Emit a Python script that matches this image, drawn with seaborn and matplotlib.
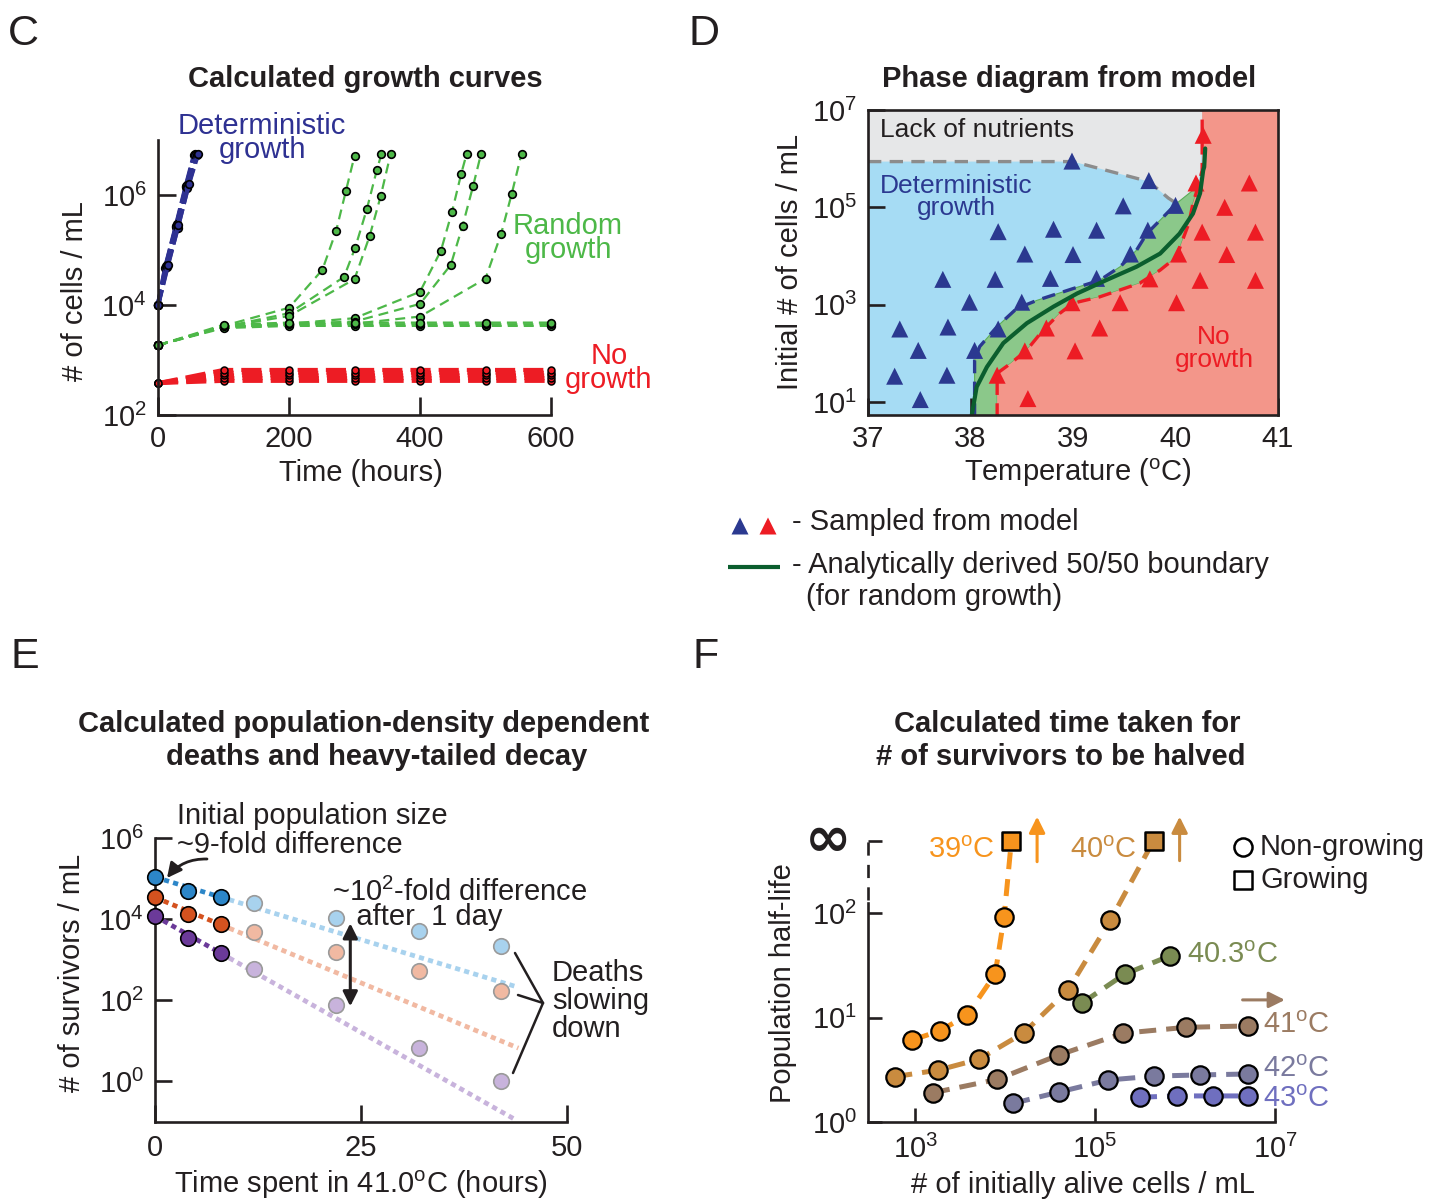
import numpy as np
import pandas as pd
import matplotlib
matplotlib.use("Agg")
import matplotlib.pyplot as plt
import seaborn as sns
from matplotlib.ticker import FixedLocator, FixedFormatter, NullLocator

# ---------------------------------------------------------------- data
# C: growth curves, time (h) and log10 cells/mL
det_time = [[0, 11, 27, 42, 55], [0, 12, 28, 43, 56], [0, 13, 29, 44, 57],
            [0, 14, 30, 45, 59], [0, 15, 31, 47, 61]]
det_log = [[4.0, 4.68, 5.42, 6.14, 6.73], [4.0, 4.71, 5.44, 6.16, 6.74],
           [4.0, 4.73, 5.47, 6.18, 6.73], [4.0, 4.70, 5.40, 6.12, 6.72],
           [4.0, 4.72, 5.46, 6.20, 6.74]]

rnd_time = [[0, 100, 200, 251, 272, 287, 300],
            [0, 100, 200, 284, 301, 319, 334, 341],
            [0, 100, 200, 300, 323, 340, 355],
            [0, 100, 200, 300, 400, 432, 449, 463, 471],
            [0, 100, 200, 300, 400, 447, 465, 481, 493],
            [0, 100, 200, 300, 400, 500, 524, 540, 555],
            [0, 100, 200, 300, 400, 500, 600],
            [0, 100, 200, 300, 400, 500, 600],
            [0, 100, 200, 300, 400, 500, 600]]
rnd_log = [[3.27, 3.62, 3.95, 4.64, 5.35, 6.08, 6.71],
           [3.27, 3.60, 3.85, 4.51, 5.04, 5.75, 6.45, 6.74],
           [3.27, 3.60, 3.80, 4.47, 5.25, 5.98, 6.74],
           [3.27, 3.60, 3.66, 3.76, 4.24, 4.99, 5.70, 6.39, 6.74],
           [3.27, 3.60, 3.65, 3.70, 4.02, 4.73, 5.44, 6.16, 6.74],
           [3.27, 3.60, 3.64, 3.66, 3.79, 4.48, 5.30, 6.02, 6.75],
           [3.27, 3.58, 3.62, 3.62, 3.62, 3.62, 3.62],
           [3.27, 3.61, 3.65, 3.65, 3.65, 3.65, 3.65],
           [3.27, 3.64, 3.68, 3.68, 3.68, 3.68, 3.68]]

none_time = [[0, 100, 200, 300, 400, 500, 600]] * 5
none_log = [[2.58, 2.62, 2.62, 2.62, 2.62, 2.62, 2.62],
            [2.58, 2.67, 2.67, 2.67, 2.67, 2.67, 2.67],
            [2.58, 2.72, 2.72, 2.72, 2.72, 2.72, 2.72],
            [2.58, 2.77, 2.77, 2.77, 2.77, 2.77, 2.77],
            [2.58, 2.82, 2.82, 2.82, 2.82, 2.82, 2.82]]

# D: phase diagram, temperature (C) and log10 initial density
tri_blue_T = [37.51, 37.26, 37.77, 37.49, 38.04, 37.31, 37.78, 38.27, 37.99, 38.50,
              37.73, 38.24, 38.78, 39.23, 38.53, 39.00, 39.56, 38.27, 38.81, 39.23,
              39.73, 39.49, 40.00, 39.74, 38.99]
tri_blue_logN = [1.05, 1.53, 1.55, 2.06, 2.06, 2.50, 2.54, 2.50, 3.05, 3.05,
                 3.52, 3.52, 3.54, 3.54, 4.04, 4.03, 4.04, 4.50, 4.55, 4.53,
                 4.53, 5.03, 5.04, 5.55, 5.95]
tri_red_T = [38.56, 38.26, 38.53, 39.02, 38.74, 39.26, 38.99, 39.46, 40.01, 39.75,
             40.24, 40.78, 40.03, 40.50, 40.26, 40.78, 40.48, 40.20, 40.72, 40.27]
tri_red_logN = [1.07, 1.55, 2.05, 2.05, 2.52, 2.52, 3.04, 3.04, 3.04, 3.53,
                3.50, 3.50, 4.04, 4.03, 4.49, 4.49, 5.00, 5.50, 5.50, 6.48]

nutr_T = [37.0, 39.0, 39.74, 39.93, 40.01, 40.17, 40.22, 40.25, 40.26]
nutr_logN = [5.94, 5.94, 5.53, 5.19, 5.08, 5.35, 5.45, 5.90, 7.0]
det_edge_T = [38.04, 38.04, 38.09, 38.26, 38.45, 38.65, 39.00, 39.26, 39.46, 39.62,
              39.72, 39.88, 40.01, 40.17, 40.22]
det_edge_logN = [0.70, 1.86, 2.14, 2.55, 2.92, 3.09, 3.33, 3.50, 3.78, 4.12,
                 4.46, 4.80, 5.08, 5.35, 5.42]
nog_edge_T = [38.26, 38.26, 38.39, 38.55, 38.71, 38.87, 39.00, 39.26, 39.65, 39.85,
              40.01, 40.08, 40.13, 40.17, 40.22, 40.26, 40.26]
nog_edge_logN = [0.70, 1.59, 1.79, 2.07, 2.48, 2.82, 3.03, 3.16, 3.44, 3.71,
                 3.98, 4.39, 4.67, 5.08, 5.42, 5.76, 7.0]
bound_T = [38.01, 38.06, 38.16, 38.32, 38.55, 38.81, 39.04, 39.33, 39.62, 39.85,
           40.04, 40.17, 40.24, 40.27, 40.28, 40.29]
bound_logN = [0.70, 1.31, 1.72, 2.21, 2.62, 2.96, 3.23, 3.51, 3.78, 4.05,
              4.46, 4.87, 5.29, 5.76, 5.83, 6.21]

# E: survivors at 41.0 C, time (h) and log10 survivors/mL
e_time = [0, 4, 8, 12, 22, 32, 42]
e_high = [5.04, 4.71, 4.54, 4.40, 4.04, 3.71, 3.34]
e_mid = [4.54, 4.13, 3.88, 3.69, 3.18, 2.73, 2.23]
e_low = [4.08, 3.53, 3.17, 2.78, 1.88, 0.82, 0.00]
fit_start = [5.04, 4.54, 4.08]        # log10 at t = 0
fit_slope = [-0.0617, -0.0844, -0.115]  # log10 per hour
fit_end = [44.1, 44.1, 43.5]          # hours

# F: half-life vs initial density
INF_HL = 10 ** 2.69                   # plotting position of an infinite half-life
f_temps = ['39', '40', '40.3', '41', '42', '43']
f_cells = {'39': [933, 1905, 3800, 7762, 9772],
           '40': [603, 1820, 5130, 16200, 50100, 148000],
           '40.3': [72400, 214000, 676000],
           '41': [1580, 8130, 39800, 204000, 1.02e6, 5.01e6],
           '42': [12300, 39800, 141000, 457000, 1.48e6, 5.01e6],
           '43': [316000, 813000, 2.04e6, 5.01e6]}
f_halflife = {'39': [6.12, 7.52, 10.6, 26.1, 92.3],
              '40': [2.74, 3.16, 4.01, 7.19, 18.4, 85.1],
              '40.3': [13.9, 26.1, 38.9],
              '41': [1.92, 2.57, 4.41, 7.10, 8.09, 8.34],
              '42': [1.52, 1.95, 2.54, 2.77, 2.84, 2.90],
              '43': [1.74, 1.79, 1.79, 1.79]}
f_growing_cells = {'39': 11750, '40': 447000}

# ---------------------------------------------------------------- style
W, H, DPI = 1445, 1200, 100
FS = 21
FS_IN = 19      # labels written inside the phase diagram
INK = '#231F20'
sns.set_theme(style="ticks")
plt.rcParams.update({
    'font.family': ['Liberation Sans', 'DejaVu Sans'],
    'mathtext.fontset': 'custom',
    'mathtext.rm': 'Liberation Sans',
    'mathtext.it': 'Liberation Sans:italic',
    'mathtext.bf': 'Liberation Sans:bold',
    'font.size': FS,
    'axes.linewidth': 1.9,
    'axes.edgecolor': INK,
    'xtick.direction': 'in', 'ytick.direction': 'in',
    'xtick.major.width': 1.9, 'ytick.major.width': 1.9,
    'xtick.color': INK, 'ytick.color': INK,
    'xtick.labelsize': FS, 'ytick.labelsize': FS,
    'xtick.major.pad': 7, 'ytick.major.pad': 8,
    'text.color': INK,
})

fig = plt.figure(figsize=(W / DPI, H / DPI), dpi=DPI)


def box(l, t, r, b):
    return fig.add_axes([l / W, 1 - b / H, (r - l) / W, (b - t) / H])


def txt(x, y, s, **kw):
    kw.setdefault('fontsize', FS)
    kw.setdefault('va', 'baseline')
    return fig.text(x / W, 1 - y / H, s, **kw)


def two_line(x, y_last, s, spacing=0.83, **kw):
    # two stacked lines, y_last is the baseline of the lower line
    kw.setdefault('ha', 'center')
    kw.setdefault('multialignment', 'center')
    return txt(x, y_last, s, linespacing=spacing, **kw)


def long_frame(times, logs):
    rows = []
    for k, (tt, ll) in enumerate(zip(times, logs)):
        for t, l in zip(tt, ll):
            rows.append((k, t, 10.0 ** l))
    return pd.DataFrame(rows, columns=['curve', 't', 'n'])


def pow_labels(exps):
    return ['$\\mathregular{10^{%d}}$' % e for e in exps]


# overlay in pixel units for keys and annotation strokes
ov = fig.add_axes([0, 0, 1, 1], zorder=10)
ov.set_xlim(0, W)
ov.set_ylim(H, 0)
ov.axis('off')

# ---------------------------------------------------------------- C
RED, GREEN, NAVY = '#ED1C24', '#4DB848', '#2E3192'
axC = box(158, 140, 551, 415)
axC.set_yscale('log')
common = dict(x='t', y='n', units='curve', estimator=None, sort=False, ax=axC,
              marker='o', markeredgecolor='black', clip_on=False)
sns.lineplot(data=long_frame(none_time, none_log), color=RED, lw=2.9,
             linestyle=(0, (5, 2)), markersize=5, markeredgewidth=1.1,
             markerfacecolor=RED, **common)
sns.lineplot(data=long_frame(rnd_time, rnd_log), color=GREEN, lw=1.6,
             linestyle=(0, (4.5, 2.7)), markersize=5.5, markeredgewidth=1.2,
             markerfacecolor=GREEN, **common)
sns.lineplot(data=long_frame(det_time, det_log), color=NAVY, lw=3.2,
             linestyle=(0, (3.5, 1.2)), markersize=5.5, markeredgewidth=1.2,
             markerfacecolor=NAVY, **common)
axC.set_xlim(0, 600)
axC.set_ylim(1e2, 1e7)
axC.set(xlabel='', ylabel='')
sns.despine(ax=axC)
axC.xaxis.set_major_locator(FixedLocator([0, 200, 400, 600]))
axC.yaxis.set_major_locator(FixedLocator([1e2, 1e4, 1e6]))
axC.yaxis.set_major_formatter(FixedFormatter(pow_labels([2, 4, 6])))
axC.yaxis.set_minor_locator(NullLocator())
axC.tick_params(length=13)

txt(8, 45, 'C', fontsize=31)
txt(365, 87, 'Calculated growth curves', ha='center', fontweight='bold')
txt(75, 291, '# of cells / mL', ha='center', va='center', rotation=90)
txt(361, 473, 'Time (hours)', ha='center', va='center')
two_line(262, 158, 'Deterministic\ngrowth', color=NAVY)
two_line(568, 258, 'Random\ngrowth', color=GREEN)
two_line(609, 388, 'No\ngrowth', color=RED)

# ---------------------------------------------------------------- D
BG_BLUE, BG_GREY, BG_GREEN, BG_RED = '#A6DCF4', '#E6E7E8', '#8BC88A', '#F3968A'
TRI_BLUE, TRI_RED, DARKGREEN = '#2B3990', '#ED1C24', '#0B5E2E'
axD = box(868, 110, 1278, 415)
axD.set_yscale('log')
axD.set_facecolor(BG_BLUE)
top = 7.0
grey_T = [37.0] + nutr_T
grey_N = [top] + nutr_logN
axD.fill(grey_T, [10 ** v for v in grey_N], color=BG_GREY, lw=0, zorder=0.5)
green_T = det_edge_T + nog_edge_T[:15][::-1]
green_N = det_edge_logN + nog_edge_logN[:15][::-1]
axD.fill(green_T, [10 ** v for v in green_N], facecolor=BG_GREEN,
         edgecolor='#5DAE5A', lw=0.8, zorder=0.6)
red_T = nog_edge_T + [41.0, 41.0]
red_N = nog_edge_logN + [top, 0.70]
axD.fill(red_T, [10 ** v for v in red_N], color=BG_RED, lw=0, zorder=0.7)

edge_kw = dict(estimator=None, sort=False, ax=axD, lw=2.4)
sns.lineplot(x=nutr_T[:5], y=[10 ** v for v in nutr_logN[:5]], color='#8C8C8C',
             linestyle=(0, (4, 2.5)), **edge_kw)
sns.lineplot(x=det_edge_T[:13], y=[10 ** v for v in det_edge_logN[:13]], color=TRI_BLUE,
             linestyle=(0, (4, 2.5)), **edge_kw)
sns.lineplot(x=nog_edge_T, y=[10 ** v for v in nog_edge_logN], color=TRI_RED,
             linestyle=(0, (4, 2.5)), **edge_kw)
sns.scatterplot(x=tri_blue_T, y=[10 ** v for v in tri_blue_logN], marker='^', s=150,
                color=TRI_BLUE, edgecolor='none', ax=axD, zorder=4)
sns.scatterplot(x=tri_red_T, y=[10 ** v for v in tri_red_logN], marker='^', s=150,
                color=TRI_RED, edgecolor='none', ax=axD, zorder=4)
sns.lineplot(x=bound_T, y=[10 ** v for v in bound_logN], color=DARKGREEN, lw=3.0,
             estimator=None, sort=False, ax=axD, zorder=5)
axD.set_xlim(37, 41)
axD.set_ylim(10 ** 0.733, 1e7)
axD.set(xlabel='', ylabel='')
axD.xaxis.set_major_locator(FixedLocator([37, 38, 39, 40, 41]))
axD.xaxis.set_major_formatter(FixedFormatter(['37', '38', '39', '40', '41']))
axD.yaxis.set_major_locator(FixedLocator([1e1, 1e3, 1e5, 1e7]))
axD.yaxis.set_major_formatter(FixedFormatter(pow_labels([1, 3, 5, 7])))
axD.yaxis.set_minor_locator(NullLocator())
axD.tick_params(length=12.5)
for sp in axD.spines.values():
    sp.set_zorder(6)

txt(688, 45, 'D', fontsize=31)
txt(1069, 87, 'Phase diagram from model', ha='center', fontweight='bold')
txt(790, 262, 'Initial # of cells / mL', ha='center', va='center', rotation=90)
txt(1078, 473, 'Temperature ($\\mathregular{^o}$C)', ha='center', va='center')
txt(880, 137, 'Lack of nutrients', fontsize=FS_IN)
two_line(956, 215, 'Deterministic\ngrowth', spacing=0.9, color=TRI_BLUE, fontsize=FS_IN)
two_line(1214, 367, 'No\ngrowth', spacing=0.95, color=TRI_RED, fontsize=FS_IN)

# key below D
ov.scatter([740], [526], marker='^', s=150, color=TRI_BLUE, edgecolor='none')
ov.scatter([768], [526], marker='^', s=150, color=TRI_RED, edgecolor='none')
ov.plot([728, 780], [567, 567], color=DARKGREEN, lw=3.0, solid_capstyle='butt')
txt(792, 522, '- Sampled from model', va='center')
txt(792, 565, '- Analytically derived 50/50 boundary', va='center')
txt(806, 597, '(for random growth)', va='center')

# ---------------------------------------------------------------- E
axE = box(155, 838.3, 567, 1121.7)
axE.set_yscale('log')
dark = ['#2C86C8', '#D4521F', '#6B3A99']
light = ['#A8D2EE', '#F1B9A2', '#C8B3DC']
series = [e_high, e_mid, e_low]
split_t = 9.0
for k in range(3):
    t_dark = [0.0, split_t]
    t_light = [split_t, fit_end[k]]
    sns.lineplot(x=t_light, y=[10 ** (fit_start[k] + fit_slope[k] * t) for t in t_light],
                 color=light[k], lw=3.4, linestyle=(0, (1.1, 0.9)), estimator=None,
                 ax=axE, zorder=2)
    sns.lineplot(x=t_dark, y=[10 ** (fit_start[k] + fit_slope[k] * t) for t in t_dark],
                 color=dark[k], lw=3.4, linestyle=(0, (1.1, 0.9)), estimator=None,
                 ax=axE, zorder=2)
for k in range(3):
    vals = [10 ** v for v in series[k]]
    sns.scatterplot(x=e_time[3:], y=vals[3:], s=125, color=light[k], edgecolor='#9A9A9A',
                    linewidth=1.2, ax=axE, zorder=3, clip_on=False)
    sns.scatterplot(x=e_time[:3], y=vals[:3], s=125, color=dark[k], edgecolor='black',
                    linewidth=1.2, ax=axE, zorder=4, clip_on=False)
axE.set_xlim(0, 50)
axE.set_ylim(1e-1, 1e6)
axE.set(xlabel='', ylabel='')
sns.despine(ax=axE)
axE.xaxis.set_major_locator(FixedLocator([0, 25, 50]))
axE.xaxis.set_major_formatter(FixedFormatter(['0', '25', '50']))
axE.yaxis.set_major_locator(FixedLocator([1e0, 1e2, 1e4, 1e6]))
axE.yaxis.set_major_formatter(FixedFormatter(pow_labels([0, 2, 4, 6])))
axE.yaxis.set_minor_locator(NullLocator())
axE.tick_params(length=12)
axE.tick_params(axis='x', pad=9)
axE.annotate('', xy=(23.7, 10 ** 1.85), xytext=(23.7, 10 ** 3.9),
             arrowprops=dict(arrowstyle='<|-|>', color=INK, lw=2.2, mutation_scale=22,
                             shrinkA=0, shrinkB=0))

txt(10, 668, 'E', fontsize=31)
txt(364, 732, 'Calculated population-density dependent', ha='center', fontweight='bold')
txt(377, 765, 'deaths and heavy-tailed decay', ha='center', fontweight='bold')
txt(72, 973, '# of survivors / mL', ha='center', va='center', rotation=90)
txt(361, 1185, 'Time spent in 41.0$\\mathregular{^o}$C (hours)', ha='center', va='center')
txt(177, 853, 'Initial population size\n~9-fold difference', linespacing=1.05)
txt(332, 925, '~10$\\mathregular{^2}$-fold difference\n   after  1 day',
    linespacing=0.83, multialignment='left')
txt(552, 1037, 'Deaths\nslowing\ndown', linespacing=1.0)
ov.annotate('', xy=(167, 878), xytext=(207, 859),
            arrowprops=dict(arrowstyle='-|>', color=INK, lw=2.0, mutation_scale=22,
                            connectionstyle='arc3,rad=0.25', shrinkA=0, shrinkB=0))
for (x0, y0) in [(515, 953), (518, 995), (513, 1073)]:
    ov.plot([x0, 543], [y0, 1003], color=INK, lw=1.8)

# ---------------------------------------------------------------- F
fcol = {'39': '#F7941D', '40': '#C98B3F', '40.3': '#7A8B52',
        '41': '#9B7B62', '42': '#7A7A9E', '43': '#6F6FBF'}
axF = box(868.3, 837.6, 1275, 1122.4)
axF.set_xscale('log')
axF.set_yscale('log')
for key in f_temps:
    xs = list(f_cells[key])
    ys = list(f_halflife[key])
    if key in f_growing_cells:
        xs.append(f_growing_cells[key])
        ys.append(INF_HL)
    sns.lineplot(x=xs, y=ys, color=fcol[key], lw=3.6, linestyle=(0, (3.4, 2.0)),
                 estimator=None, sort=False, ax=axF, zorder=2)
    sns.scatterplot(x=f_cells[key], y=f_halflife[key], s=175, color=fcol[key],
                    edgecolor='black', linewidth=1.6, ax=axF, zorder=3, clip_on=False)
    if key in f_growing_cells:
        sns.scatterplot(x=[f_growing_cells[key]], y=[INF_HL], marker='s', s=150,
                        color=fcol[key], edgecolor='black', linewidth=1.8, ax=axF,
                        zorder=3, clip_on=False)
axF.set_xlim(10 ** 2.48, 1e7)
axF.set_ylim(1, 10 ** 2.72)
axF.set(xlabel='', ylabel='')
sns.despine(ax=axF)
axF.spines['left'].set_bounds(1, 10 ** 2.1)
axF.plot([10 ** 2.48] * 2, [10 ** 2.12, 10 ** 2.69], color=INK, lw=1.9,
         linestyle=(0, (5, 3.5)), clip_on=False)
axF.xaxis.set_major_locator(FixedLocator([1e3, 1e5, 1e7]))
axF.xaxis.set_major_formatter(FixedFormatter(pow_labels([3, 5, 7])))
axF.xaxis.set_minor_locator(NullLocator())
axF.yaxis.set_major_locator(FixedLocator([1, 10, 100, INF_HL]))
axF.yaxis.set_major_formatter(FixedFormatter(pow_labels([0, 1, 2]) + ['']))
axF.yaxis.set_minor_locator(NullLocator())
axF.tick_params(length=10)
axF.tick_params(axis='x', pad=9)
txt(828, 841, '\u221e', ha='center', va='center', fontsize=40, fontweight='bold',
    family=['DejaVu Sans'])

arrow_kw = dict(arrowstyle='-|>', lw=2.2, mutation_scale=24, shrinkA=0, shrinkB=0)
axF.annotate('', xy=(10 ** 4.356, 10 ** 2.92), xytext=(10 ** 4.356, 10 ** 2.49),
             arrowprops=dict(color=fcol['39'], **arrow_kw), annotation_clip=False)
axF.annotate('', xy=(10 ** 5.94, 10 ** 2.92), xytext=(10 ** 5.94, 10 ** 2.50),
             arrowprops=dict(color=fcol['40'], **arrow_kw), annotation_clip=False)
axF.annotate('', xy=(10 ** 7.11, 10 ** 1.17), xytext=(10 ** 6.64, 10 ** 1.17),
             arrowprops=dict(color=fcol['41'], **arrow_kw), annotation_clip=False)

txt(692, 668, 'F', fontsize=31)
txt(1067, 732, 'Calculated time taken for', ha='center', fontweight='bold')
txt(1061, 765, '# of survivors to be halved', ha='center', fontweight='bold')
txt(783, 983, 'Population half-life', ha='center', va='center', rotation=90)
txt(1083, 1185, '# of initially alive cells / mL', ha='center', va='center')
deg = '$\\mathregular{^o}$C'
txt(995, 858, '39' + deg, ha='right', color=fcol['39'])
txt(1137, 858, '40' + deg, ha='right', color=fcol['40'])
txt(1187, 963, '40.3' + deg, color=fcol['40.3'])
txt(1263, 1033, '41' + deg, color=fcol['41'])
txt(1263, 1077, '42' + deg, color=fcol['42'])
txt(1263, 1107, '43' + deg, color=fcol['43'])
ov.scatter([1243], [847], s=170, facecolor='white', edgecolor='black', linewidth=1.8)
ov.scatter([1243], [880], marker='s', s=150, facecolor='white', edgecolor='black',
           linewidth=1.8)
txt(1260, 855, 'Non-growing')
txt(1260, 888, 'Growing')

fig.savefig('out.png', dpi=DPI)
